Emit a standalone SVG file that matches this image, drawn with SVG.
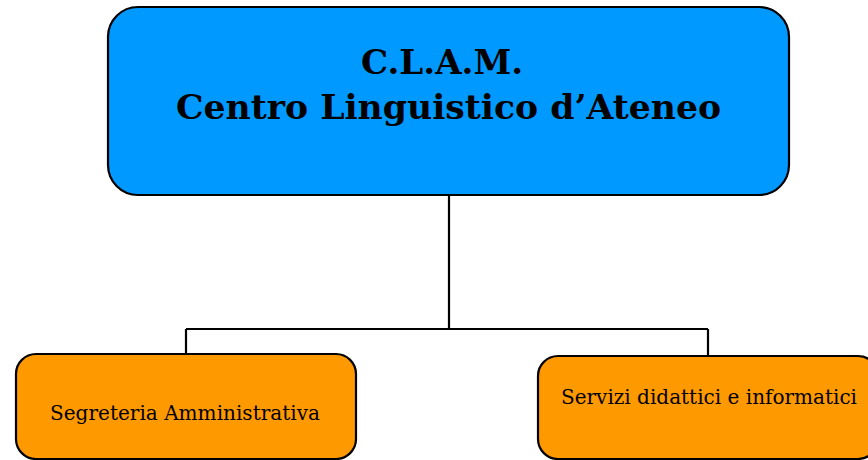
<svg xmlns="http://www.w3.org/2000/svg" width="868" height="460" viewBox="0 0 868 460">
<style>
.box{stroke:#000;stroke-width:2.2}
.top{fill:#0099FF}
.sub{fill:#FF9900}
.t{font-family:"DejaVu Serif","Liberation Serif",serif;fill:#000}
.title{font-size:34px;font-weight:bold}
.lbl{font-size:20px}
.conn{fill:none;stroke:#000;stroke-width:2.2}
</style>
<rect width="868" height="460" fill="#fff"/>
<g id="connectors">
<path class="conn" d="M449 195 V329 M186 329 H708 M186 329 V354 M708 329 V356"/>
</g>
<g id="clam">
<rect class="box top" x="108" y="7" width="681" height="188" rx="30"/>
<text class="t title" x="442" y="74" text-anchor="middle" textLength="162" lengthAdjust="spacingAndGlyphs">C.L.A.M.</text>
<text class="t title" x="448.5" y="119" text-anchor="middle" textLength="545" lengthAdjust="spacingAndGlyphs">Centro Linguistico d’Ateneo</text>
</g>
<g id="segreteria">
<rect class="box sub" x="16" y="354" width="340" height="105" rx="20"/>
<text class="t lbl" x="185" y="420" text-anchor="middle" textLength="270" lengthAdjust="spacingAndGlyphs">Segreteria Amministrativa</text>
</g>
<g id="servizi">
<rect class="box sub" x="538" y="356" width="340" height="103" rx="20"/>
<text class="t lbl" x="709" y="404" text-anchor="middle" textLength="296" lengthAdjust="spacingAndGlyphs">Servizi didattici e informatici</text>
</g>
</svg>
